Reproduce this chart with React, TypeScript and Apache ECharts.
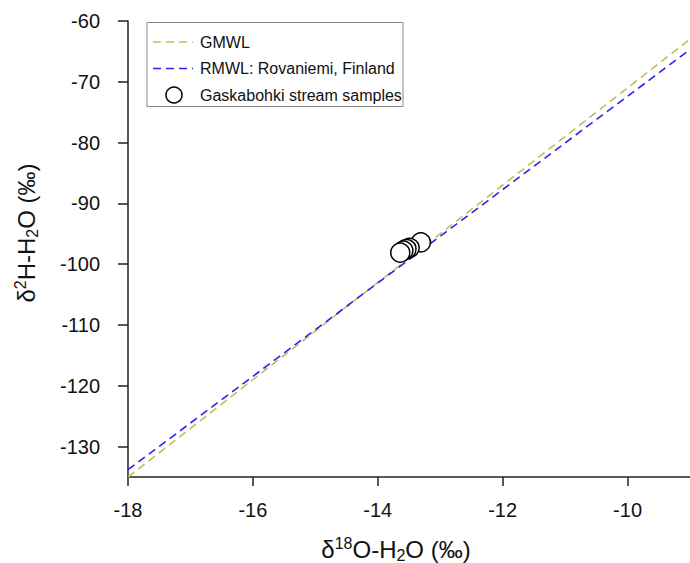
import React, { useEffect, useRef } from "react";
import * as echarts from "echarts";

const xTicks = [-18, -16, -14, -12, -10];
const yTicks = [-130, -120, -110, -100, -90, -80, -70, -60];
const gmwlX = [-18, -9];
const gmwlY = [-135, -63];
const rmwlX = [-18, -9];
const rmwlY = [-133.8, -64.7];
const sampleX = [-13.31, -13.49, -13.54, -13.59, -13.64];
const sampleY = [-96.4, -97.3, -97.5, -97.75, -98.1];
const legendNames = ["GMWL", "RMWL: Rovaniemi, Finland", "Gaskabohki stream samples"];

const FONT = "Liberation Sans, Arial, sans-serif";

export default function App() {
  const ref = useRef<HTMLDivElement>(null);
  useEffect(() => {
    if (!ref.current) return;
    const chart = echarts.init(ref.current, null, { renderer: "svg" });
    const zip = (xs: number[], ys: number[]) => xs.map((x, i) => [x, ys[i]]);
    const axisColor = "#222";
    const richT = {
      n: { fontSize: 24, fontFamily: FONT, lineHeight: 28, fill: "#111" },
      s: { fontSize: 16, fontFamily: FONT, lineHeight: 18, verticalAlign: "top", fill: "#111" },
      b: { fontSize: 16, fontFamily: FONT, lineHeight: 16, verticalAlign: "bottom", fill: "#111" },
    };
    chart.setOption({
      animation: false,
      backgroundColor: "#fff",
      textStyle: { fontFamily: FONT },
      grid: { left: 128, top: 21, width: 566, height: 456, containLabel: false },
      xAxis: {
        type: "value",
        min: -18,
        max: -9,
        splitLine: { show: false },
        axisLine: { show: true, onZero: false, lineStyle: { color: axisColor, width: 1.5 } },
        axisTick: { show: true, inside: false, length: 9, customValues: xTicks, lineStyle: { color: axisColor, width: 1.5 } },
        axisLabel: { customValues: xTicks, fontSize: 20, color: "#111", margin: 23, fontFamily: FONT },
      },
      yAxis: {
        type: "value",
        min: -135,
        max: -60,
        splitLine: { show: false },
        axisLine: { show: true, onZero: false, lineStyle: { color: axisColor, width: 1.5 } },
        axisTick: { show: true, inside: false, length: 10, customValues: yTicks, lineStyle: { color: axisColor, width: 1.5 } },
        axisLabel: { customValues: yTicks, fontSize: 20, color: "#111", margin: 28, fontFamily: FONT },
      },
      series: [
        {
          name: legendNames[0],
          type: "line",
          data: zip(gmwlX, gmwlY),
          showSymbol: false,
          clip: true,
          lineStyle: { color: "#bebe5c", width: 1.6, type: [8, 5] },
          z: 2,
        },
        {
          name: legendNames[1],
          type: "line",
          data: zip(rmwlX, rmwlY),
          showSymbol: false,
          clip: true,
          lineStyle: { color: "#2626ee", width: 1.6, type: [8, 5] },
          z: 3,
        },
        {
          name: legendNames[2],
          type: "scatter",
          data: zip(sampleX, sampleY),
          symbol: "circle",
          symbolSize: 19,
          itemStyle: { color: "#fff", borderColor: "#000", borderWidth: 1.5, opacity: 1 },
          z: 5,
        },
      ],
      graphic: [
        {
          type: "rect",
          shape: { x: 147, y: 22.5, width: 256, height: 84 },
          style: { fill: "#fff", stroke: "#888", lineWidth: 1 },
          z: 10,
        },
        {
          type: "line",
          shape: { x1: 153, y1: 42, x2: 193, y2: 42 },
          style: { stroke: "#bebe5c", lineWidth: 1.6, lineDash: [8, 5] },
          z: 11,
        },
        {
          type: "line",
          shape: { x1: 153, y1: 68.5, x2: 193, y2: 68.5 },
          style: { stroke: "#2626ee", lineWidth: 1.6, lineDash: [8, 5] },
          z: 11,
        },
        {
          type: "circle",
          shape: { cx: 174, cy: 95, r: 8 },
          style: { fill: "#fff", stroke: "#000", lineWidth: 1.5 },
          z: 11,
        },
        ...legendNames.map((n, i) => ({
          type: "text",
          x: 200,
          y: 42 + i * 26.5,
          style: { text: n, fontSize: 16, fontFamily: FONT, fill: "#111", verticalAlign: "middle", align: "left" },
          z: 11,
        })),
        {
          type: "text",
          x: 396,
          y: 549,
          style: {
            text: "{n|δ}{s|18}{n|O-H}{b|2}{n|O (‰)}",
            align: "center",
            verticalAlign: "middle",
            fill: "#111",
            rich: richT,
          },
          z: 11,
        },
        {
          type: "text",
          x: 26,
          y: 233,
          rotation: Math.PI / 2,
          style: {
            text: "{n|δ}{s|2}{n|H-H}{b|2}{n|O (‰)}",
            align: "center",
            verticalAlign: "middle",
            fill: "#111",
            rich: richT,
          },
          z: 11,
        },
      ],
    });
    return () => chart.dispose();
  }, []);
  return (
    <div
      ref={ref}
      style={{ position: "fixed", left: 0, top: 0, width: 690, height: 563, background: "#fff" }}
    />
  );
}
